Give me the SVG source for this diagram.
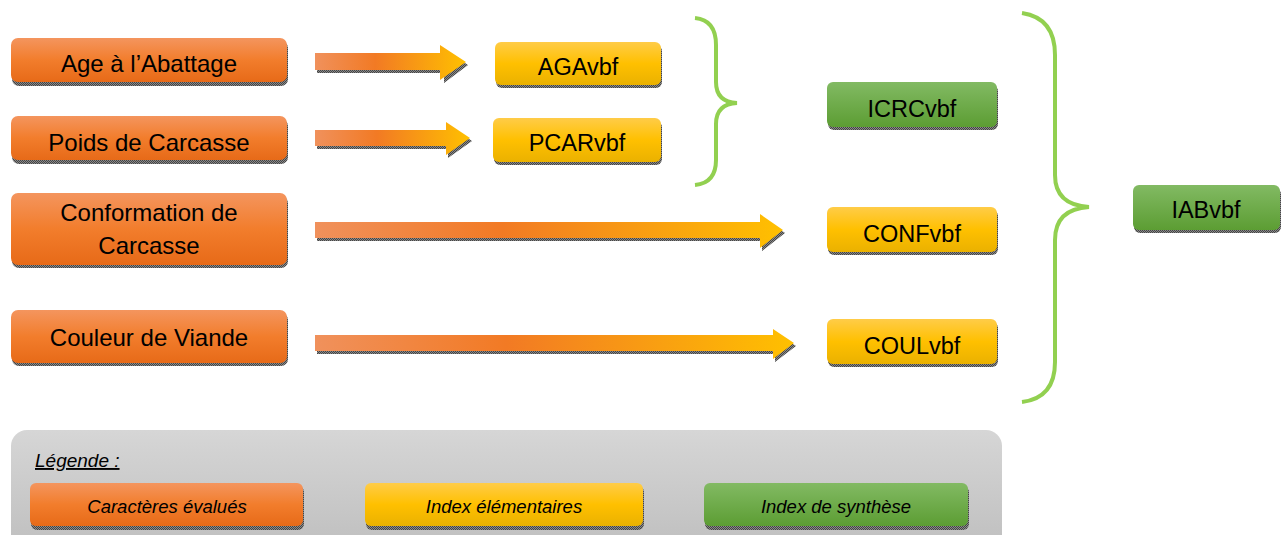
<svg xmlns="http://www.w3.org/2000/svg" width="1282" height="535" viewBox="0 0 1282 535">
<defs>
<linearGradient id="gOr" x1="0" y1="0" x2="0" y2="1"><stop offset="0" stop-color="#F4955E"/><stop offset="0.5" stop-color="#F27D2C"/><stop offset="1" stop-color="#E76A18"/></linearGradient>
<linearGradient id="gYe" x1="0" y1="0" x2="0" y2="1"><stop offset="0" stop-color="#FFCC48"/><stop offset="0.5" stop-color="#FFC000"/><stop offset="1" stop-color="#EAB100"/></linearGradient>
<linearGradient id="gGr" x1="0" y1="0" x2="0" y2="1"><stop offset="0" stop-color="#82BA63"/><stop offset="1" stop-color="#5C9D33"/></linearGradient>
<linearGradient id="gLeg" x1="0" y1="0" x2="0" y2="1"><stop offset="0" stop-color="#D6D6D6"/><stop offset="1" stop-color="#BEBEBE"/></linearGradient>
<linearGradient id="gArr" x1="0" y1="0" x2="1" y2="0"><stop offset="0" stop-color="#F0915C"/><stop offset="0.4" stop-color="#F27A24"/><stop offset="1" stop-color="#FFC000"/></linearGradient>
<pattern id="shad" width="2" height="2" patternUnits="userSpaceOnUse"><rect width="2" height="2" fill="#8a8a8a"/><rect width="1" height="1" fill="#444"/><rect x="1" y="1" width="1" height="1" fill="#444"/></pattern>
</defs>
<style>
.sh{fill:url(#shad)}
.or{fill:url(#gOr)}
.ye{fill:url(#gYe)}
.gr{fill:url(#gGr)}
.t{font-family:"Liberation Sans",Arial,sans-serif;fill:#000;text-anchor:middle}
.main{font-size:24px}
.idx{font-size:23.5px}
.leg{font-size:18.5px;font-style:italic}
.brace{fill:none;stroke:#92D050;stroke-width:4;stroke-linecap:butt}
</style>

<g id="legend">
<rect x="11" y="430" width="991" height="125" rx="16" fill="url(#gLeg)"/>
<text x="35" y="467" class="t" style="text-anchor:start;font-size:19px;font-style:italic;text-decoration:underline">Légende :</text>
<rect x="31" y="486" width="273" height="44" rx="6" class="sh"/>
<rect x="30" y="483" width="273" height="43" rx="6" class="or"/>
<text x="167" y="513" class="t leg">Caractères évalués</text>
<rect x="366" y="486" width="278" height="44" rx="6" class="sh"/>
<rect x="365" y="483" width="278" height="43" rx="6" class="ye"/>
<text x="504" y="513" class="t leg">Index élémentaires</text>
<rect x="705" y="486" width="264" height="44" rx="6" class="sh"/>
<rect x="704" y="483" width="264" height="43" rx="6" class="gr"/>
<text x="836" y="513" class="t leg">Index de synthèse</text>
</g>

<g id="connectors">
<polygon points="317,56 442,56 442,48 468,65 444,83 444,73 317,73" class="sh"/>
<polygon points="315,53 440,53 440,45 466,62 440,80 440,70 315,70" fill="url(#gArr)"/>
<polygon points="317,133 448,133 448,125 472,141 448,158 448,149 317,149" class="sh"/>
<polygon points="315,130 446,130 446,122 470,138 446,155 446,146 315,146" fill="url(#gArr)"/>
<polygon points="317,225 762,225 762,217 785,233 762,251 762,241 317,241" class="sh"/>
<polygon points="315,222 760,222 760,214 783,230 760,248 760,238 315,238" fill="url(#gArr)"/>
<polygon points="317,338 775,338 775,332 796,346 775,362 775,354 317,354" class="sh"/>
<polygon points="315,335 773,335 773,329 794,343 773,359 773,351 315,351" fill="url(#gArr)"/>
<path class="brace" d="M695,18 Q716,20 716,45 L716,82 Q716,102 737,103 Q716,104 716,124 L716,160 Q716,183 695,185"/>
<path class="brace" d="M1022,13 Q1055,18 1055,55 L1055,175 Q1055,205 1089,207 Q1055,209 1055,240 L1055,362 Q1055,398 1022,402"/>
</g>

<g id="age">
<rect x="12" y="41" width="276" height="45" rx="7" class="sh"/>
<rect x="11" y="38" width="276" height="44" rx="7" class="or"/>
<text x="149" y="72" class="t main">Age à l’Abattage</text>
</g>
<g id="poids">
<rect x="12" y="119" width="276" height="45" rx="7" class="sh"/>
<rect x="11" y="116" width="276" height="44" rx="7" class="or"/>
<text x="149" y="151" class="t main">Poids de Carcasse</text>
</g>
<g id="conformation">
<rect x="12" y="196" width="276" height="72" rx="7" class="sh"/>
<rect x="11" y="193" width="276" height="72" rx="7" class="or"/>
<text x="149" y="221" class="t main">Conformation de</text>
<text x="149" y="254" class="t main">Carcasse</text>
</g>
<g id="couleur">
<rect x="12" y="313" width="276" height="53" rx="7" class="sh"/>
<rect x="11" y="310" width="276" height="53" rx="7" class="or"/>
<text x="149" y="346" class="t main">Couleur de Viande</text>
</g>

<g id="agavbf">
<rect x="496" y="45" width="166" height="43" rx="6" class="sh"/>
<rect x="495" y="42" width="166" height="43" rx="6" class="ye"/>
<text x="578" y="75" class="t idx">AGAvbf</text>
</g>
<g id="pcarvbf">
<rect x="494" y="121" width="168" height="44" rx="6" class="sh"/>
<rect x="493" y="118" width="168" height="44" rx="6" class="ye"/>
<text x="577" y="151" class="t idx">PCARvbf</text>
</g>
<g id="icrcvbf">
<rect x="828" y="85" width="170" height="45" rx="6" class="sh"/>
<rect x="827" y="82" width="170" height="45" rx="6" class="gr"/>
<text x="912" y="117" class="t idx">ICRCvbf</text>
</g>
<g id="confvbf">
<rect x="828" y="210" width="170" height="45" rx="6" class="sh"/>
<rect x="827" y="207" width="170" height="45" rx="6" class="ye"/>
<text x="912" y="242" class="t idx">CONFvbf</text>
</g>
<g id="coulvbf">
<rect x="828" y="322" width="170" height="45" rx="6" class="sh"/>
<rect x="827" y="319" width="170" height="45" rx="6" class="ye"/>
<text x="912" y="354" class="t idx">COULvbf</text>
</g>
<g id="iabvbf">
<rect x="1134" y="188" width="147" height="45" rx="6" class="sh"/>
<rect x="1133" y="185" width="147" height="45" rx="6" class="gr"/>
<text x="1206" y="218" class="t idx">IABvbf</text>
</g>
</svg>
